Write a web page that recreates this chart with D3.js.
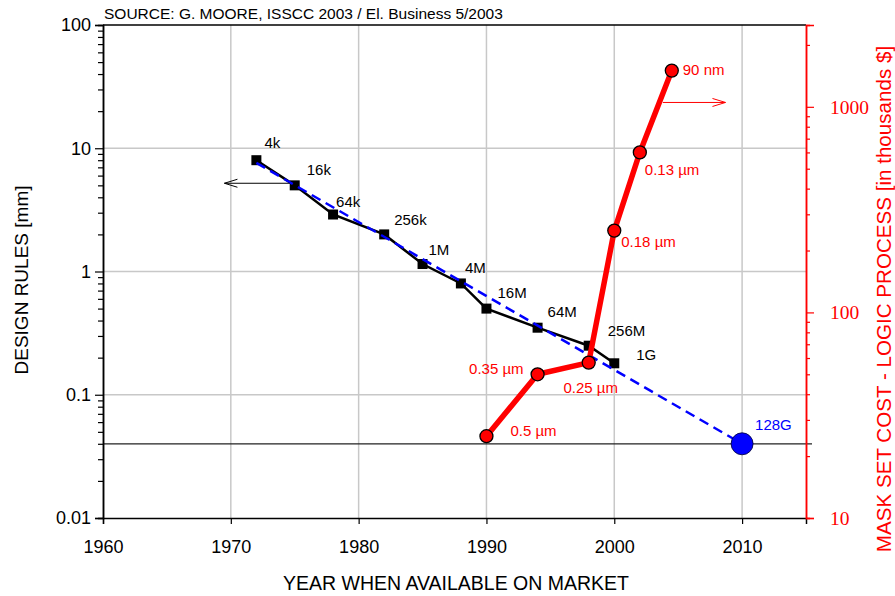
<!DOCTYPE html>
<html><head><meta charset="utf-8">
<script src="https://cdn.jsdelivr.net/npm/d3@7"></script>
<style>
body{margin:0;background:#fff}
text{font-family:"Liberation Sans",Arial,sans-serif}
</style>
</head><body>
<svg id="c" width="895" height="596"></svg>
<script>
// ---------- data ----------
const dramYears  = [1972, 1975, 1978, 1982, 1985, 1988, 1990, 1994, 1998, 2000];
const dramRules  = [8, 5, 2.9, 2, 1.15, 0.8, 0.5, 0.35, 0.25, 0.18];
const dramLabels = ["4k","16k","64k","256k","1M","4M","16M","64M","256M","1G"];
const trendYears = [1972, 2010];
const trendRules = [7.6, 0.04];
const trendLabel = "128G";
const maskYears  = [1990, 1994, 1998, 2000, 2002, 2004.5];
const maskCost   = [25, 50, 57, 250, 600, 1500];
const maskLabels = ["0.5 µm","0.35 µm","0.25 µm","0.18 µm","0.13 µm","90 nm"];
const xTicks      = [1960, 1970, 1980, 1990, 2000, 2010];
const yLeftTicks  = [0.01, 0.1, 1, 10, 100];
const yRightTicks = [10, 100, 1000];
const refLevel    = 0.04;
const arrowLeft   = [[1974.6, 5.2], [1969.5, 5.2]];
const arrowRight  = [[2003.8, 1050], [2008.7, 1050]];

// ---------- layout ----------
const svg = d3.select("#c");
const L = 103, R = 806, T = 25, B = 518;
const x  = d3.scaleLinear().domain([1960, 2015]).range([L, R]);
const yL = d3.scaleLog().domain([0.01, 100]).range([B, T]);
const yR = d3.scaleLog().domain([10, 2500]).range([B, T]);
const RED = "#ff0000", BLUE = "#0000ff";

// grid
const grid = svg.append("g").attr("stroke", "#c8c8c8").attr("stroke-width", 1.5);
xTicks.filter(v => v > 1960).forEach(v =>
  grid.append("line").attr("x1", x(v)).attr("x2", x(v)).attr("y1", T).attr("y2", B));
yLeftTicks.filter(v => v > 0.01 && v < 100).forEach(v =>
  grid.append("line").attr("x1", L).attr("x2", R).attr("y1", yL(v)).attr("y2", yL(v)));

// reference line at 0.04
svg.append("line").attr("x1", L).attr("x2", R + 6)
  .attr("y1", yL(refLevel)).attr("y2", yL(refLevel))
  .attr("stroke", "#222").attr("stroke-width", 1.2);

// top frame
svg.append("line").attr("x1", L).attr("x2", R).attr("y1", T).attr("y2", T)
  .attr("stroke", "#000").attr("stroke-width", 1.5);

// left axis
const minorL = [];
yLeftTicks.slice(0, -1).forEach(d => { for (let k = 2; k <= 9; k++) minorL.push(d * k); });
const axL = svg.append("g").attr("transform", `translate(${L},0)`)
  .call(d3.axisLeft(yL).tickValues(minorL).tickSize(5).tickFormat(""));
const axL2 = svg.append("g").attr("transform", `translate(${L},0)`)
  .call(d3.axisLeft(yL).tickValues(yLeftTicks).tickSize(8).tickPadding(4)
    .tickFormat(d => d3.format("~g")(d)));
[axL, axL2].forEach(a => { a.select(".domain").attr("stroke", "#000").attr("stroke-width", 1.5); a.selectAll(".tick line").attr("stroke", "#000").attr("stroke-width", 1.2); });
axL2.selectAll("text").attr("font-size", 18).attr("fill", "#000")
  .style("font-family", '"Liberation Sans",Arial,sans-serif');

// bottom axis
const axB = svg.append("g").attr("transform", `translate(0,${B})`)
  .call(d3.axisBottom(x).tickValues(xTicks).tickSize(6).tickPadding(16).tickFormat(d3.format("d")));
axB.select(".domain").attr("stroke", "#000").attr("stroke-width", 1.5);
axB.selectAll(".tick line").attr("stroke", "#000").attr("stroke-width", 1.2);
axB.selectAll("text").attr("font-size", 18).attr("fill", "#000")
  .style("font-family", '"Liberation Sans",Arial,sans-serif');

// right axis
const minorR = [];
yRightTicks.forEach(d => { for (let k = 2; k <= 9; k++) if (d * k < 2500) minorR.push(d * k); });
const axR = svg.append("g").attr("transform", `translate(${R},0)`)
  .call(d3.axisRight(yR).tickValues(minorR).tickSize(4).tickFormat(""));
const axR2 = svg.append("g").attr("transform", `translate(${R},0)`)
  .call(d3.axisRight(yR).tickValues(yRightTicks).tickSize(8).tickPadding(16).tickFormat(d3.format("d")));
[axR, axR2].forEach(a => { a.select(".domain").attr("stroke", RED).attr("stroke-width", 1.5); a.selectAll(".tick line").attr("stroke", RED).attr("stroke-width", 1.2); });
axR2.selectAll("text").attr("font-size", 19.5).attr("fill", RED)
  .style("font-family", '"Liberation Serif","Times New Roman",serif');

// axis titles
svg.append("text").attr("x", 456).attr("y", 590).attr("text-anchor", "middle")
  .attr("font-size", 19.5).text("YEAR WHEN AVAILABLE ON MARKET");
svg.append("text").attr("transform", "translate(28,280) rotate(-90)")
  .attr("text-anchor", "middle").attr("font-size", 19).text("DESIGN RULES [mm]");
svg.append("text").attr("transform", "translate(891,299) rotate(-90)")
  .attr("text-anchor", "middle").attr("font-size", 20.6).attr("fill", RED)
  .text("MASK SET COST - LOGIC PROCESS [in thousands $]");
svg.append("text").attr("x", 104).attr("y", 19).attr("font-size", 15.5)
  .text("SOURCE: G. MOORE, ISSCC 2003 / El. Business 5/2003");

// DRAM series (black)
const dram = dramYears.map((yr, i) => ({yr, v: dramRules[i], lab: dramLabels[i]}));
svg.append("path").datum(dram)
  .attr("d", d3.line().x(d => x(d.yr)).y(d => yL(d.v)))
  .attr("fill", "none").attr("stroke", "#000").attr("stroke-width", 2.5);
svg.append("g").selectAll("rect").data(dram).join("rect")
  .attr("x", d => x(d.yr) - 5).attr("y", d => yL(d.v) - 5)
  .attr("width", 10).attr("height", 10).attr("fill", "#000");
const dramOff = [[8,-12],[12,-10],[3,-8],[10,-9],[6,-9],[4,-10],[11,-11],[10,-11],[19,-10],[22,-3]];
svg.append("g").selectAll("text").data(dram).join("text")
  .attr("x", (d, i) => x(d.yr) + dramOff[i][0]).attr("y", (d, i) => yL(d.v) + dramOff[i][1])
  .attr("font-size", 15).text(d => d.lab);

// trend (blue dashed)
const trend = trendYears.map((yr, i) => ({yr, v: trendRules[i]}));
svg.append("path").datum(trend)
  .attr("d", d3.line().x(d => x(d.yr)).y(d => yL(d.v)))
  .attr("fill", "none").attr("stroke", BLUE).attr("stroke-width", 2.5)
  .attr("stroke-dasharray", "10,6");

// mask cost (red)
const mask = maskYears.map((yr, i) => ({yr, v: maskCost[i], lab: maskLabels[i]}));
svg.append("path").datum(mask)
  .attr("d", d3.line().x(d => x(d.yr)).y(d => yR(d.v)))
  .attr("fill", "none").attr("stroke", RED).attr("stroke-width", 5.5)
  .attr("stroke-linejoin", "round");
svg.append("g").selectAll("circle").data(mask).join("circle")
  .attr("cx", d => x(d.yr)).attr("cy", d => yR(d.v)).attr("r", 6.5)
  .attr("fill", RED).attr("stroke", "#000").attr("stroke-width", 1.3);
const maskOff = [[24,0,"start"],[-14,0,"end"],[2,30,"middle"],[7,16,"start"],[5,23,"start"],[11,4,"start"]];
svg.append("g").selectAll("text").data(mask).join("text")
  .attr("x", (d, i) => x(d.yr) + maskOff[i][0]).attr("y", (d, i) => yR(d.v) + maskOff[i][1])
  .attr("text-anchor", (d, i) => maskOff[i][2])
  .attr("font-size", 15).attr("fill", RED).text(d => d.lab);

// 128G point
const last = trend[trend.length - 1];
svg.append("circle").attr("cx", x(last.yr)).attr("cy", yL(last.v)).attr("r", 11)
  .attr("fill", BLUE).attr("stroke", "#000033").attr("stroke-width", 0.8);
svg.append("text").attr("x", x(last.yr) + 13).attr("y", yL(last.v) - 14)
  .attr("font-size", 15).attr("fill", BLUE).text(trendLabel);

// arrows
function arrow(p0, p1, color) {
  const g = svg.append("g").attr("stroke", color).attr("stroke-width", 1).attr("fill", "none");
  g.append("line").attr("x1", p0[0]).attr("y1", p0[1]).attr("x2", p1[0]).attr("y2", p1[1]);
  const dir = Math.sign(p1[0] - p0[0]);
  g.append("path").attr("d", `M${p1[0] - dir * 13},${p1[1] - 4}L${p1[0]},${p1[1]}L${p1[0] - dir * 13},${p1[1] + 4}`);
}
arrow([x(arrowLeft[0][0]), yL(arrowLeft[0][1])], [x(arrowLeft[1][0]), yL(arrowLeft[1][1])], "#000");
arrow([x(arrowRight[0][0]), yR(arrowRight[0][1])], [x(arrowRight[1][0]), yR(arrowRight[1][1])], RED);
</script>
</body></html>
